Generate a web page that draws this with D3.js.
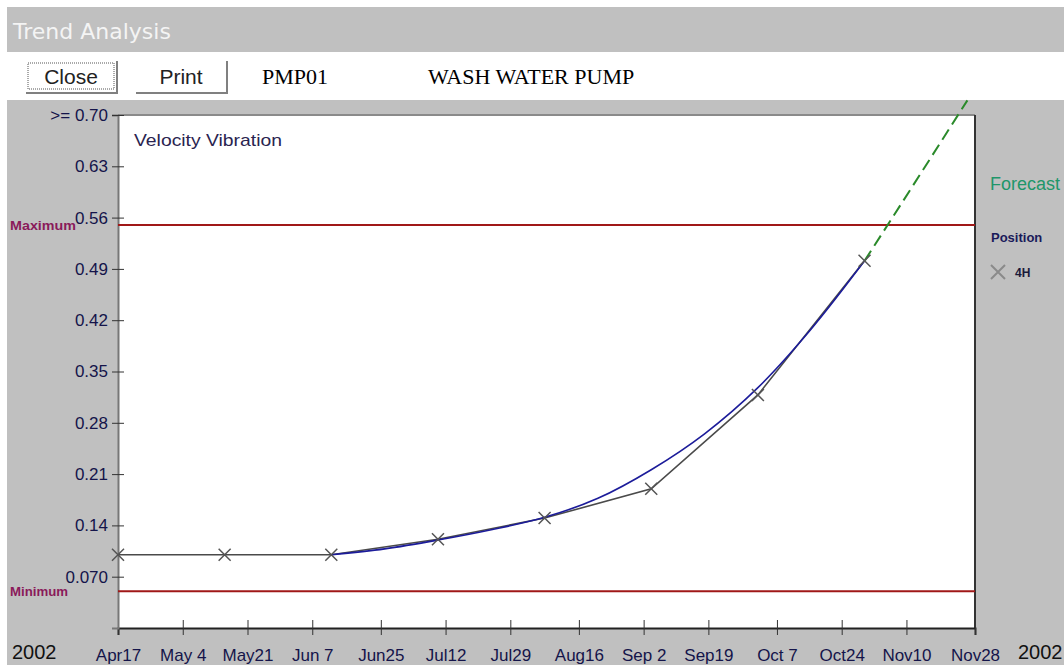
<!DOCTYPE html>
<html>
<head>
<meta charset="utf-8">
<script src="https://cdn.jsdelivr.net/npm/d3@7"></script>
<style>
  body { margin: 0; background: #fff; overflow: hidden; }
  text { font-family: "Liberation Sans", Arial, sans-serif; }
</style>
</head>
<body>
<script>
// readings for position 4H, one every 28 days
var readDates = ["2002-04-17", "2002-05-15", "2002-06-12", "2002-07-10", "2002-08-07", "2002-09-04", "2002-10-02", "2002-10-30"]
var readValues = [0.10, 0.10, 0.10, 0.121, 0.150, 0.190, 0.318, 0.501]

// fitted trend (blue)
var trendDates = ["2002-06-12", "2002-06-26", "2002-07-10", "2002-07-24", "2002-08-07", "2002-08-21", "2002-09-04", "2002-09-18", "2002-10-02", "2002-10-16", "2002-10-30"]
var trendValues = [0.100, 0.108, 0.120, 0.134, 0.151, 0.177, 0.216, 0.265, 0.328, 0.408, 0.501]

// forecast (green dashed)
var forecastDates = ["2002-10-30", "2002-11-12", "2002-11-26"]
var forecastValues = [0.501, 0.606, 0.72]

var xTickDates = ["2002-04-17", "2002-05-04", "2002-05-21", "2002-06-07", "2002-06-25", "2002-07-12", "2002-07-29", "2002-08-16", "2002-09-02", "2002-09-19", "2002-10-07", "2002-10-24", "2002-11-10", "2002-11-28"]
var xTickLabels = ["Apr17", "May 4", "May21", "Jun 7", "Jun25", "Jul12", "Jul29", "Aug16", "Sep 2", "Sep19", "Oct 7", "Oct24", "Nov10", "Nov28"]

var yTicks = [0.07, 0.14, 0.21, 0.28, 0.35, 0.42, 0.49, 0.56, 0.63, 0.70]
var yTickLabels = ["0.070", "0.14", "0.21", "0.28", "0.35", "0.42", "0.49", "0.56", "0.63", ">= 0.70"]

var limitNames = ["Maximum", "Minimum"]
var limitValues = [0.55, 0.05]

var w = 1064
var h = 665
var parse = d3.timeParse("%Y-%m-%d")

var svg = d3.select("body").append("svg")
  .attr("width", w)
  .attr("height", h)

// window chrome
svg.append("rect").attr("x", 7).attr("y", 7).attr("width", w - 7).attr("height", 45).attr("fill", "#c0c0c0")
svg.append("text").attr("x", 13).attr("y", 39)
  .style("font-family", "'DejaVu Sans', Verdana, sans-serif")
  .style("font-size", "22px").attr("fill", "#f4f4f4")
  .text("Trend Analysis")

svg.append("rect").attr("x", 7).attr("y", 100).attr("width", w - 7).attr("height", h - 100).attr("fill", "#c0c0c0")

// buttons
var buttons = [{ label: "Close", x: 25 }, { label: "Print", x: 135 }]
buttons.forEach(function(b, i) {
  var g = svg.append("g").attr("transform", "translate(" + b.x + ",60)")
  g.append("path").attr("d", "M1,33 H92 V1").attr("fill", "none").attr("stroke", "#808080").attr("stroke-width", 2)
  if (i == 0) {
    g.append("rect").attr("x", 3).attr("y", 3).attr("width", 86).attr("height", 26)
      .attr("fill", "none").attr("stroke", "#555").attr("stroke-dasharray", "1,1")
  }
  g.append("text").attr("x", 46).attr("y", 24).attr("text-anchor", "middle")
    .style("font-size", "21px").attr("fill", "#222").text(b.label)
})
svg.append("text").attr("x", 262).attr("y", 84)
  .style("font-family", "'Liberation Serif', 'Times New Roman', serif").style("font-size", "22px")
  .text("PMP01")
svg.append("text").attr("x", 428).attr("y", 84)
  .style("font-family", "'Liberation Serif', 'Times New Roman', serif").style("font-size", "22px")
  .text("WASH WATER PUMP")

// plot
var x0 = 118, x1 = 975, y0 = 628, y1 = 115

var xScale = d3.scaleTime()
  .domain([parse("2002-04-17"), parse("2002-11-28")])
  .range([x0, x1])

var yScale = d3.scaleLinear()
  .domain([0, 0.70])
  .range([y0, y1])

svg.append("rect").attr("x", x0).attr("y", y1).attr("width", x1 - x0).attr("height", y0 - y1).attr("fill", "#fff")
svg.append("path").attr("d", "M" + x0 + "," + y1 + " H" + x1).attr("stroke", "#8a8a8a").attr("stroke-width", 2)
svg.append("path").attr("d", "M" + x1 + "," + y1 + " V" + y0).attr("stroke", "#333").attr("stroke-width", 2)

var xAxis = d3.axisBottom(xScale)
  .tickValues(xTickDates.map(parse))
  .tickFormat(function(d, i) { return xTickLabels[i] })
  .tickSize(7)
  .tickPadding(14)

var yAxis = d3.axisLeft(yScale)
  .tickValues(yTicks)
  .tickFormat(function(d, i) { return yTickLabels[i] })
  .tickSize(6)
  .tickPadding(4)

var gx = svg.append("g").attr("transform", "translate(0," + y0 + ")").call(xAxis)
gx.select(".domain").attr("stroke", "#222").attr("stroke-width", 2)
gx.selectAll(".tick line").attr("y1", -8).attr("stroke", "#333")
gx.selectAll(".tick text").style("font-size", "17px").attr("fill", "#14144a").style("font-family", "'Liberation Sans', Arial, sans-serif")

var gy = svg.append("g").attr("transform", "translate(" + x0 + ",0)").call(yAxis)
gy.select(".domain").attr("stroke", "#777").attr("stroke-width", 2)
gy.selectAll(".tick line").attr("x1", 6).attr("stroke", "#333")
gy.selectAll(".tick text").style("font-size", "17px").attr("fill", "#14144a").style("font-family", "'Liberation Sans', Arial, sans-serif")

svg.append("text").attr("x", 12).attr("y", 659).style("font-size", "20px").attr("fill", "#111").text("2002")
svg.append("text").attr("x", 1018).attr("y", 659).style("font-size", "20px").attr("fill", "#111").text("2002")

svg.append("text").attr("x", 134).attr("y", 146).style("font-size", "17px").attr("fill", "#2a2450")
  .attr("textLength", 148).attr("lengthAdjust", "spacingAndGlyphs")
  .text("Velocity Vibration")

// alarm limits
limitNames.forEach(function(name, i) {
  var yy = yScale(limitValues[i])
  svg.append("line").attr("x1", x0).attr("x2", x1).attr("y1", yy).attr("y2", yy)
    .attr("stroke", "#a01818").attr("stroke-width", 2)
  svg.append("text").attr("x", 10).attr("y", yy + 5)
    .style("font-size", "13px").style("font-weight", "bold").attr("fill", "#8a1a5a")
    .attr("textLength", name == "Maximum" ? 66 : 58).attr("lengthAdjust", "spacingAndGlyphs")
    .text(name)
})

var line = d3.line()
  .x(function(d) { return xScale(d.date) })
  .y(function(d) { return yScale(d.value) })

function pairs(dates, values) {
  return dates.map(function(d, i) { return { date: parse(d), value: values[i] } })
}

var readings = pairs(readDates, readValues)

svg.append("path").datum(readings)
  .attr("d", line)
  .attr("fill", "none").attr("stroke", "#4a4a4a").attr("stroke-width", 1.6)

svg.append("path").datum(pairs(trendDates, trendValues))
  .attr("d", line.curve(d3.curveCatmullRom))
  .attr("fill", "none").attr("stroke", "#1c1c9a").attr("stroke-width", 1.6)

svg.append("path").datum(pairs(forecastDates, forecastValues))
  .attr("d", line.curve(d3.curveMonotoneX))
  .attr("fill", "none").attr("stroke", "#2a8a2a").attr("stroke-width", 2)
  .attr("stroke-dasharray", "12,6")

function cross(sel, s) {
  sel.append("path")
    .attr("d", "M" + (-s) + "," + (-s) + " L" + s + "," + s + " M" + (-s) + "," + s + " L" + s + "," + (-s))
}

svg.selectAll(".pt")
  .data(readings)
  .enter().append("g")
  .attr("class", "pt")
  .attr("transform", function(d) { return "translate(" + xScale(d.date) + "," + yScale(d.value) + ")" })
  .each(function() { cross(d3.select(this), 6) })
  .selectAll("path").attr("stroke", "#555").attr("stroke-width", 1.5).attr("fill", "none")

// legend
svg.append("text").attr("x", 990).attr("y", 190).style("font-size", "18px").attr("fill", "#20966a").text("Forecast")
svg.append("text").attr("x", 991).attr("y", 242).style("font-size", "13px").style("font-weight", "bold").attr("fill", "#1a1a5a").text("Position")
var lg = svg.append("g").attr("transform", "translate(998,272)")
cross(lg, 7)
lg.selectAll("path").attr("stroke", "#8a8a8a").attr("stroke-width", 2).attr("fill", "none")
svg.append("text").attr("x", 1015).attr("y", 277).style("font-size", "12px").style("font-weight", "bold").attr("fill", "#1a1a3a").text("4H")
</script>
</body>
</html>
